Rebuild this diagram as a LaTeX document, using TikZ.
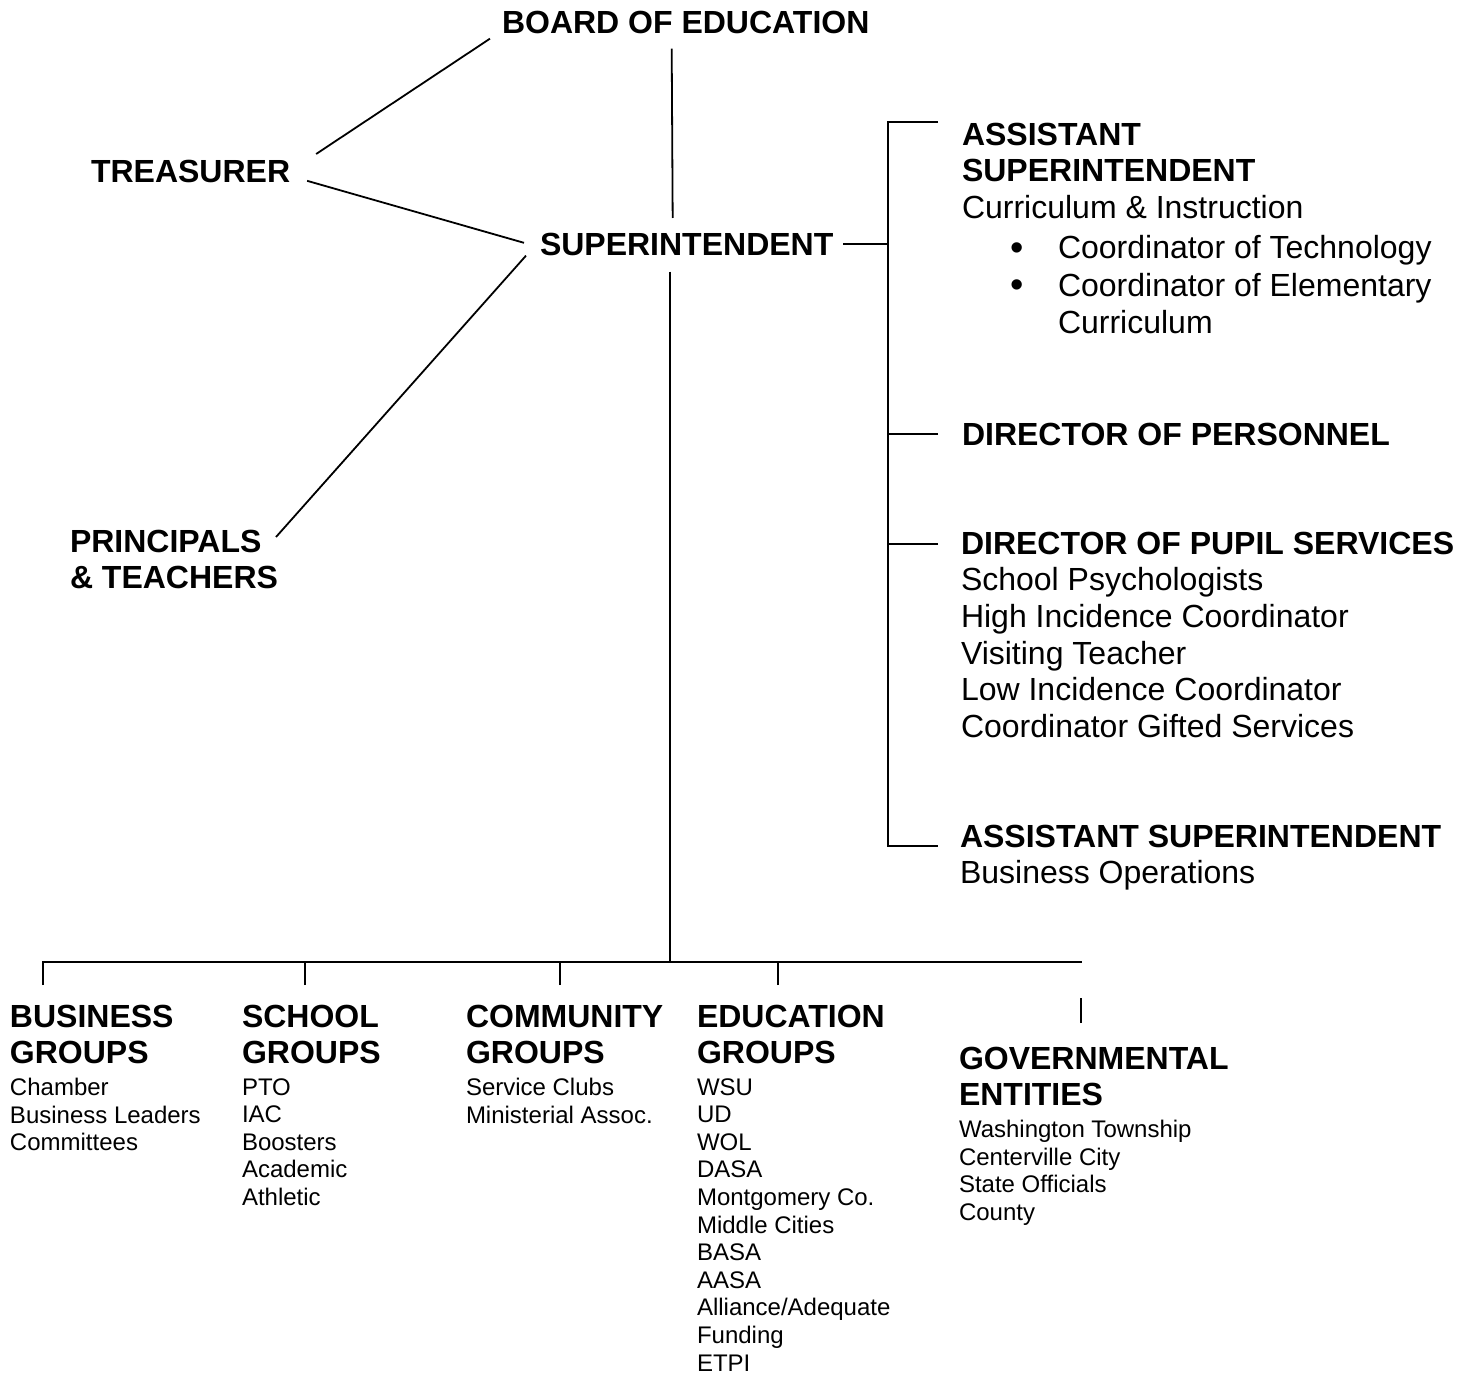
\documentclass[tikz,border=0pt]{standalone}
\usepackage{fontspec}
\setmainfont{Liberation Sans}
\usetikzlibrary{positioning}
\newcommand{\bigdot}{\llap{\raisebox{-0.8pt}{\fontsize{19}{18.7}\selectfont\textbullet}\hspace{17.3pt}}}
\begin{document}
\begin{tikzpicture}[x=0.5pt,y=-0.5pt,every node/.style={inner sep=0pt,outer sep=0pt,anchor=north west,align=left},
	hd/.style={font=\fontsize{16}{18.3}\selectfont\bfseries},
	txt/.style={font=\fontsize{16}{18.3}\selectfont},
	sub/.style={font=\fontsize{12}{13.8}\selectfont}]
	\path[fill=white] (0,0) rectangle (1476,1374);
			  \node[hd]   (board) at (502,11)    {BOARD OF EDUCATION};
			  \node[hd]   (treas) at (91,160)    {TREASURER};
			  \node[hd]   (super) at (540,233)   {SUPERINTENDENT};
			  \node[hd]   (princ) at (70,530)    {PRINCIPALS\\\& TEACHERS};
			  \node[txt]  (asc)   at (962,123)   {\textbf{ASSISTANT}\\\textbf{SUPERINTENDENT}\\Curriculum \& Instruction};
			  \node[txt,font=\fontsize{16}{18.7}\selectfont] (bul) [below right=8.3pt and 48pt of asc.south west]
			  	{\bigdot Coordinator of Technology\\\bigdot Coordinator of Elementary\\Curriculum};
			  \node[hd]   (dp)    at (962,423)   {DIRECTOR OF PERSONNEL};
			  \node[txt]  (dps)   at (961,532)   {\textbf{DIRECTOR OF PUPIL SERVICES}\\School Psychologists\\High Incidence Coordinator\\Visiting Teacher\\Low Incidence Coordinator\\Coordinator Gifted Services};
			  \node[txt]  (asb)   at (960,825)   {\textbf{ASSISTANT SUPERINTENDENT}\\Business Operations};
			  
			  \node[hd]   (bus)   at (10,1005)   {BUSINESS\\GROUPS};
			  \node[hd]   (sch)   at (242,1005)  {SCHOOL\\GROUPS};
			  \node[hd]   (com)   at (466,1005)  {COMMUNITY\\GROUPS};
			  \node[hd]   (edu)   at (697,1005)  {EDUCATION\\GROUPS};
			  \node[hd]   (gov)   at (959,1047)  {GOVERNMENTAL\\ENTITIES};
			  \node[sub]  (busl)  [below=7pt of bus.south west,anchor=north west] {Chamber\\Business Leaders\\Committees};
			  \node[sub]  (schl)  [below=7pt of sch.south west,anchor=north west] {PTO\\IAC\\Boosters\\Academic\\Athletic};
			  \node[sub]  (coml)  [below=7pt of com.south west,anchor=north west] {Service Clubs\\Ministerial Assoc.};
			  \node[sub]  (edul)  [below=7pt of edu.south west,anchor=north west] {WSU\\UD\\WOL\\DASA\\Montgomery Co.\\Middle Cities\\BASA\\AASA\\Alliance/Adequate\\Funding\\ETPI};
			  \node[sub]  (govl)  [below=7pt of gov.south west,anchor=north west] {Washington Township\\Centerville City\\State Officials\\County};
			  
			\tikzset{link/.style={-,line width=0.9pt}}
			
			\draw[link] ([shift={(-12,5)}]board.south west) -- ([shift={(26,-6)}]treas.north east);
			\draw[link] ([shift={(17,9.5)}]treas.east) -- ([shift={(-16,-1.5)}]super.west);
			\draw[link] ([shift={(-14,0)}]super.south west) -- ([shift={(-2,7)}]princ.north east);
			\draw[link] ([shift={(-14,15)}]board.south) -- ([shift={(-14,-15)}]super.north);
			
			\draw[link] ([shift={(-24,-1)}]asc.north west) -- ++(-50,0) coordinate (top) |- ([shift={(-22,21)}]asb.north west);
			\draw[link] ([xshift=5pt]super.east) -- (super.east -| top);
			\draw[link] ([xshift=-12pt]dp.west) -- (dp.west -| top);
			\draw[link] ([shift={(-23,12)}]dps.north west) -- ++(-50,0);
			
			\draw[link] ([shift={(-17,16)}]super.south) -- ++(0,690) coordinate (hub);
			\draw[link] ([shift={(33,-20)}]bus.north west) |- (hub) -- ++(412,0);
			\foreach \n/\dx in {sch/63,com/94,edu/81}
				\draw[link] ([shift={(\dx,-20)}]\n.north west) -- ++(0,-23);
			\draw[link] ([shift={(122,-24)}]gov.north west) -- ++(0,-25);
		\end{tikzpicture}
\end{document}
